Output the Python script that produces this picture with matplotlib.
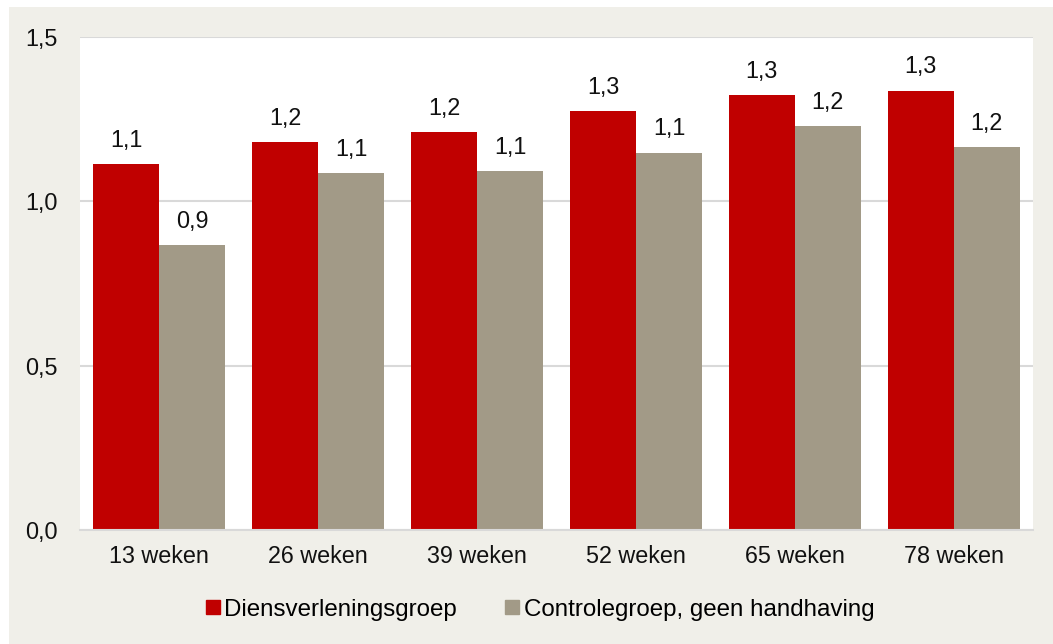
import numpy as np
import matplotlib.pyplot as plt
from matplotlib.patches import Rectangle
from matplotlib.lines import Line2D

# data
categories = ["13 weken", "26 weken", "39 weken", "52 weken", "65 weken", "78 weken"]
dienstverlening = [1.114, 1.180, 1.210, 1.274, 1.323, 1.337]
controle = [0.866, 1.086, 1.092, 1.148, 1.229, 1.165]
series_names = ["Diensverleningsgroep", "Controlegroep, geen handhaving"]
yticks = [0.0, 0.5, 1.0, 1.5]

red = "#C00000"
grey = "#A29A87"
beige = "#F0EFE9"

plt.rcParams['font.family'] = ['Liberation Sans', 'DejaVu Sans']
fs = 16.8

fig = plt.figure(figsize=(10.53, 6.44), dpi=100, facecolor="white")
fig.patches.append(Rectangle((9 / 1053, 0), 1044 / 1053, 637 / 644,
                             transform=fig.transFigure, facecolor=beige,
                             edgecolor="none", zorder=-10))

ax = fig.add_axes([80 / 1053, 114 / 644, 953 / 1053, 493 / 644])
ax.set_facecolor("white")

x = np.arange(len(categories))
w = 0.416
b1 = ax.bar(x - w / 2, dienstverlening, w, color=red, zorder=3)
b2 = ax.bar(x + w / 2, controle, w, color=grey, zorder=3)

for bars, vals in ((b1, dienstverlening), (b2, controle)):
    for rect, v in zip(bars, vals):
        lab = f"{v:.1f}".replace(".", ",")
        ax.annotate(lab, (rect.get_x() + rect.get_width() / 2, rect.get_height()),
                    xytext=(0, 12.5), textcoords="offset points",
                    ha="center", va="baseline", fontsize=fs, color="#111111")

ax.set_xlim(-0.5, len(categories) - 0.5)
ax.set_ylim(0, 1.5)
ax.set_yticks(yticks)
ax.set_yticklabels([f"{t:.1f}".replace(".", ",") for t in yticks])
ax.set_xticks(x)
ax.set_xticklabels(categories)
ax.tick_params(axis="both", length=0, labelsize=fs, colors="#111111")
ax.tick_params(axis="y", pad=16)
ax.tick_params(axis="x", pad=11)

ax.grid(axis="y", color="#D9D9D9", linewidth=1.5, zorder=0)
for s in ("left", "right", "top"):
    ax.spines[s].set_visible(False)
ax.spines["bottom"].set_color("#D9D9D9")
ax.spines["bottom"].set_linewidth(1.5)
ax.spines["bottom"].set_zorder(4)

handles = [Line2D([], [], marker="s", linestyle="none", markersize=9.5,
                  markerfacecolor=c, markeredgecolor=c) for c in (red, grey)]
fig.legend(handles, series_names, loc="center", bbox_to_anchor=(0.5128, 0.053),
           ncol=2, frameon=False, fontsize=17.4, handletextpad=0.17,
           columnspacing=2.0, handlelength=0.6)

fig.savefig("out.png", dpi=100, facecolor=fig.get_facecolor())
